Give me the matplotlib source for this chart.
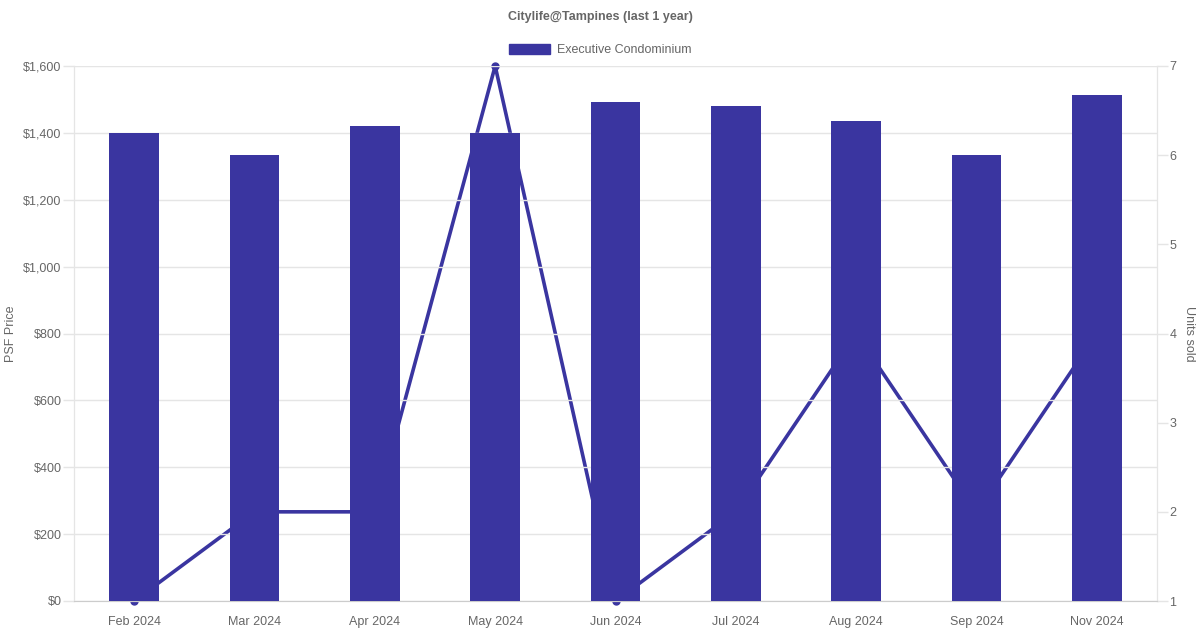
import matplotlib
matplotlib.use('Agg')
import matplotlib.pyplot as plt
from matplotlib.ticker import FuncFormatter, MultipleLocator
from matplotlib.patches import Patch

months = ['Feb 2024', 'Mar 2024', 'Apr 2024', 'May 2024', 'Jun 2024',
          'Jul 2024', 'Aug 2024', 'Sep 2024', 'Nov 2024']
psf = [1400, 1334, 1421, 1400, 1493, 1481, 1436, 1334, 1514]
units = [1, 2, 2, 7, 1, 2, 4, 2, 4]

plt.rcParams['font.family'] = ['Liberation Sans', 'DejaVu Sans']
col = '#3a35a0'
txt = '#666666'
grid = '#e5e5e5'
fs = 9

fig = plt.figure(figsize=(12, 6.3), dpi=100)
ax = fig.add_axes([74 / 1200, 29 / 630, 1083 / 1200, 535 / 630])
ax2 = ax.twinx()

x = list(range(len(months)))

# line sits behind the bars
ax2.plot(x, units, color=col, linewidth=2.6, marker='o', markersize=5,
         clip_on=False, zorder=2)
ax2.set_ylim(1, 7)
ax2.yaxis.set_major_locator(MultipleLocator(1))
ax2.set_ylabel('Units sold', color=txt, fontsize=fs, rotation=270, va='center')
ax2.yaxis.set_label_coords(1 + 32 / 1083, 0.5)

ax.set_zorder(ax2.get_zorder() + 1)
ax.patch.set_visible(False)
ax.bar(x, psf, width=0.415, color=col, zorder=3)
ax.set_ylim(0, 1600)
ax.set_xlim(-0.5, len(months) - 0.5)
ax.yaxis.set_major_locator(MultipleLocator(200))
ax.yaxis.set_major_formatter(FuncFormatter(lambda v, p: f'${v:,.0f}'))
ax.set_xticks(x)
ax.set_xticklabels(months)
ax.set_ylabel('PSF Price', color=txt, fontsize=fs, va='center')
ax.yaxis.set_label_coords(-63 / 1083, 0.5)
ax.grid(axis='y', color=grid, linewidth=1, zorder=0)
ax.set_axisbelow(True)

for a in (ax, ax2):
    for s in a.spines.values():
        s.set_color(grid)
    a.spines['top'].set_visible(False)
    a.tick_params(colors=txt, labelsize=fs, length=8, width=1, color=grid, pad=1)
    a.tick_params(axis='x', length=0, pad=11)
ax.spines['bottom'].set_color('#cccccc')

fig.text(0.5, 1 - 17 / 630, 'Citylife@Tampines (last 1 year)', ha='center', va='center',
         fontsize=fs, fontweight='bold', color=txt)
fig.legend(handles=[Patch(facecolor=col, edgecolor=col, label='Executive Condominium')],
           loc='center', bbox_to_anchor=(0.5, 1 - 50 / 630), frameon=False,
           fontsize=fs, labelcolor=txt, handlelength=3.3, handleheight=0.9,
           handletextpad=0.55)

plt.savefig('out.png', dpi=100, facecolor='white')
